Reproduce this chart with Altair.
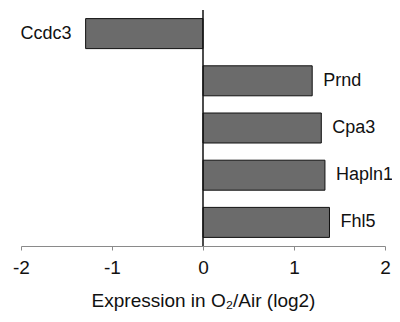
import altair as alt
import pandas as pd

genes = ["Ccdc3", "Prnd", "Cpa3", "Hapln1", "Fhl5"]
values = [-1.29, 1.20, 1.30, 1.34, 1.39]
x_ticks = [-2, -1, 0, 1, 2]

df = pd.DataFrame({"gene": genes, "value": values})

FONT = "Liberation Sans"

y_enc = alt.Y("gene:N", sort=genes, axis=None,
              scale=alt.Scale(paddingInner=0, paddingOuter=0))
x_scale = alt.Scale(domain=[-2, 2], nice=False)

bars = alt.Chart(df).mark_bar(size=30, color="#6b6b6b", stroke="#111111", strokeWidth=1).encode(
    x=alt.X("value:Q", scale=x_scale,
            axis=alt.Axis(values=x_ticks, title="Expression in O₂/Air (log2)",
                          labelExpr="datum.value < 0 ? '-' + abs(datum.value) : '' + datum.value",
                          grid=False, domainColor="#8a8a8a", tickColor="#8a8a8a",
                          tickSize=4, labelFontSize=19, labelFont=FONT, labelColor="#111",
                          labelPadding=8, titleFontSize=19, titleFont=FONT,
                          titleFontWeight="normal", titleColor="#111", titlePadding=14,
                          labelFlush=False)),
    x2=alt.datum(0),
    y=y_enc,
)

pos_labels = alt.Chart(df).transform_filter("datum.value >= 0").mark_text(
    align="left", baseline="middle", dx=11, fontSize=18, font=FONT, color="#111"
).encode(x=alt.X("value:Q", scale=x_scale), y=y_enc, text="gene:N")

neg_labels = alt.Chart(df).transform_filter("datum.value < 0").mark_text(
    align="right", baseline="middle", dx=-14, fontSize=18, font=FONT, color="#111"
).encode(x=alt.X("value:Q", scale=x_scale), y=y_enc, text="gene:N")

zero = alt.Chart(pd.DataFrame({"z": [0]})).mark_rule(color="#111", strokeWidth=1.5).encode(
    x=alt.X("z:Q", scale=x_scale)
)

chart = alt.layer(bars, zero, pos_labels, neg_labels).properties(
    width=364, height=236,
    autosize=alt.AutoSizeParams(type="none"),
    padding={"left": 13, "top": 2, "right": 7, "bottom": 68},
).configure_view(stroke=None)

chart.save("out.html", embed_options={"renderer": "svg", "actions": False})
